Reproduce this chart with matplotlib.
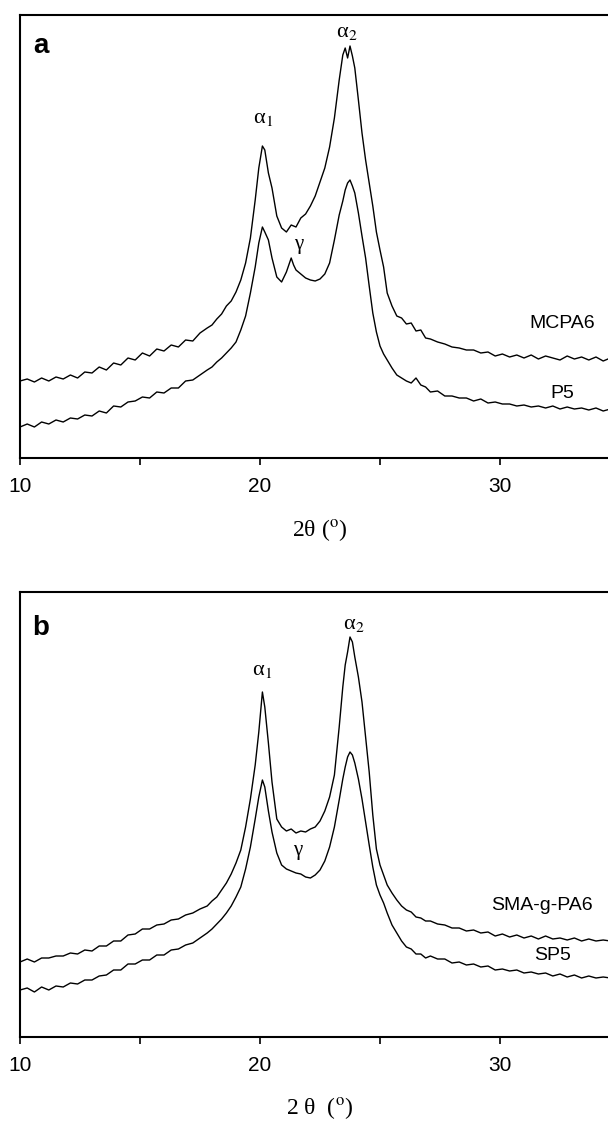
import numpy as np
import matplotlib.pyplot as plt

plt.rcParams['font.family'] = ['Liberation Sans', 'DejaVu Sans']
plt.rcParams['mathtext.fontset'] = 'stix'

## Panel a: MCPA6 and P5 (intensity in arbitrary units)
theta_mcpa6 = [10.0, 10.3, 10.6, 10.9, 11.2, 11.5, 11.8, 12.1, 12.4, 12.7, 13.0, 13.3, 13.6, 13.9,
               14.2, 14.5, 14.8, 15.1, 15.4, 15.7, 16.0, 16.3, 16.6, 16.9, 17.2, 17.5, 17.8, 18.0,
               18.2, 18.4, 18.6, 18.8, 19.0, 19.2, 19.4, 19.6, 19.8, 19.95, 20.1, 20.2, 20.35, 20.5,
               20.7, 20.9, 21.1, 21.3, 21.5, 21.7, 21.9, 22.1, 22.3, 22.5, 22.7, 22.9, 23.1, 23.3,
               23.45, 23.55, 23.65, 23.75, 23.85, 23.95, 24.1, 24.25, 24.4, 24.55, 24.7, 24.85, 25.0,
               25.15, 25.3, 25.5, 25.7, 25.9, 26.1, 26.3, 26.5, 26.7, 26.9, 27.1, 27.4, 27.7, 28.0,
               28.3, 28.6, 28.9, 29.2, 29.5, 29.8, 30.1, 30.4, 30.7, 31.0, 31.3, 31.6, 31.9, 32.2,
               32.5, 32.8, 33.1, 33.4, 33.7, 34.0, 34.3, 34.6]
int_mcpa6 = [77, 79, 76, 80, 77, 81, 79, 83, 80, 86, 85, 91, 88, 95,
             93, 100, 98, 105, 102, 109, 107, 113, 111, 118, 117, 125, 130, 133,
             139, 144, 152, 157, 166, 178, 195, 220, 258, 290, 312, 308, 285, 270,
             242, 230, 226, 233, 231, 240, 244, 252, 262, 276, 290, 311, 340, 378,
             403, 410, 400, 412, 402, 390, 358, 325, 298, 275, 252, 226, 208,
             191, 165, 152, 142, 140, 134, 135, 127, 128, 120, 119, 116, 114, 111,
             110, 108, 108, 105, 106, 102, 104, 101, 103, 100, 103, 99, 102, 100,
             98, 102, 99, 101, 98, 101, 97, 100]

theta_p5 = [10.0, 10.3, 10.6, 10.9, 11.2, 11.5, 11.8, 12.1, 12.4, 12.7, 13.0, 13.3, 13.6, 13.9,
            14.2, 14.5, 14.8, 15.1, 15.4, 15.7, 16.0, 16.3, 16.6, 16.9, 17.2, 17.5, 17.8, 18.0,
            18.2, 18.4, 18.6, 18.8, 19.0, 19.2, 19.4, 19.6, 19.8, 19.95, 20.1, 20.2, 20.35, 20.5,
            20.7, 20.9, 21.1, 21.3, 21.4, 21.5, 21.7, 21.9, 22.1, 22.3, 22.5, 22.7, 22.9, 23.1,
            23.3, 23.45, 23.55, 23.65, 23.75, 23.85, 23.95, 24.1, 24.25, 24.4, 24.55, 24.7, 24.85,
            25.0, 25.15, 25.3, 25.5, 25.7, 25.9, 26.1, 26.3, 26.5, 26.7, 26.9, 27.1, 27.4, 27.7,
            28.0, 28.3, 28.6, 28.9, 29.2, 29.5, 29.8, 30.1, 30.4, 30.7, 31.0, 31.3, 31.6, 31.9,
            32.2, 32.5, 32.8, 33.1, 33.4, 33.7, 34.0, 34.3, 34.6]
int_p5 = [31, 34, 31, 36, 34, 38, 36, 40, 39, 43, 42, 47, 45, 52,
          51, 56, 57, 61, 60, 66, 65, 70, 70, 77, 78, 83, 88, 91,
          96, 100, 105, 110, 116, 128, 142, 165, 191, 215, 231, 226, 218, 200,
          181, 176, 186, 200, 193, 188, 184, 180, 178, 177, 179, 184, 195, 218,
          243, 257, 268, 275, 278, 272, 265, 245, 222, 200, 172, 145, 126,
          112, 104, 98, 90, 83, 80, 77, 75, 80, 73, 71, 66, 67, 62,
          62, 60, 60, 57, 59, 55, 56, 54, 54, 52, 53, 51, 52, 50,
          52, 49, 51, 49, 50, 48, 50, 47, 49]

## Panel b: SMA-g-PA6 and SP5
theta_b = [10.0, 10.3, 10.6, 10.9, 11.2, 11.5, 11.8, 12.1, 12.4, 12.7, 13.0, 13.3, 13.6, 13.9,
           14.2, 14.5, 14.8, 15.1, 15.4, 15.7, 16.0, 16.3, 16.6, 16.9, 17.2, 17.5, 17.8, 18.0,
           18.2, 18.4, 18.6, 18.8, 19.0, 19.2, 19.4, 19.6, 19.8, 19.95, 20.1, 20.2, 20.35, 20.5,
           20.7, 20.9, 21.1, 21.3, 21.5, 21.7, 21.9, 22.1, 22.3, 22.5, 22.7, 22.9, 23.1, 23.3,
           23.45, 23.55, 23.65, 23.75, 23.85, 23.95, 24.1, 24.25, 24.4, 24.55, 24.7, 24.85, 25.0,
           25.15, 25.3, 25.5, 25.7, 25.9, 26.1, 26.3, 26.5, 26.7, 26.9, 27.1, 27.4, 27.7, 28.0,
           28.3, 28.6, 28.9, 29.2, 29.5, 29.8, 30.1, 30.4, 30.7, 31.0, 31.3, 31.6, 31.9, 32.2,
           32.5, 32.8, 33.1, 33.4, 33.7, 34.0, 34.3, 34.6]
int_sma = [75, 78, 75, 79, 79, 81, 81, 84, 83, 87, 86, 91, 91, 96,
           96, 102, 103, 108, 108, 112, 113, 117, 118, 122, 124, 128, 131, 136,
           140, 147, 154, 163, 174, 187, 210, 238, 272, 305, 345, 330, 294, 255,
           218, 210, 206, 208, 204, 206, 205, 208, 210, 216, 226, 240, 262, 310,
           350, 372, 385, 400, 395, 380, 360, 335, 300, 265, 222, 188, 172,
           162, 152, 144, 137, 131, 127, 125, 120, 119, 116, 116, 113, 112, 109,
           109, 106, 107, 104, 105, 101, 103, 100, 102, 99, 101, 98, 101, 98,
           99, 97, 99, 96, 98, 96, 97, 96]
int_sp5 = [47, 49, 45, 50, 47, 51, 50, 54, 53, 57, 57, 61, 62, 67,
           67, 73, 73, 77, 77, 82, 82, 87, 88, 92, 94, 99, 104, 108,
           113, 118, 124, 131, 140, 150, 168, 190, 218, 240, 257, 250, 226, 205,
           184, 172, 168, 166, 164, 163, 160, 159, 162, 167, 176, 190, 210, 237,
           258, 270, 280, 285, 282, 274, 258, 238, 215, 192, 170, 152, 142,
           134, 124, 112, 104, 96, 90, 88, 83, 83, 79, 81, 78, 78, 74,
           75, 72, 73, 70, 71, 67, 68, 66, 67, 64, 65, 63, 64, 61,
           63, 60, 62, 59, 61, 59, 60, 59]

W, H = 608, 1122
fig = plt.figure(figsize=(W / 100, H / 100), dpi=100)
serif = ['Liberation Serif', 'DejaVu Serif']


def make_axes(top_px, bottom_px):
    ax = fig.add_axes([20 / W, 1 - bottom_px / H, 600 / W, (bottom_px - top_px) / H])
    ax.set_xlim(10, 35)
    ax.set_ylim(0, bottom_px - top_px)
    ax.set_yticks([])
    ax.set_xticks([10, 20, 30])
    ax.set_xticks([15, 25], minor=True)
    ax.tick_params(axis='x', which='both', direction='out', length=5, width=1.2,
                   labelsize=15, pad=9)
    for s in ax.spines.values():
        s.set_linewidth(1.5)
    ax.spines['right'].set_visible(False)
    return ax


# panel a
ax1 = make_axes(15, 458)
ax1.plot(theta_mcpa6, int_mcpa6, color='black', lw=1.0)
ax1.plot(theta_p5, int_p5, color='black', lw=1.0)
ax1.text(0.035, 0.93, 'a', transform=ax1.transAxes, fontsize=20, fontweight='bold',
         ha='center', va='center')
ax1.text(20.12, 340, r'α$_{\rm 1}$', fontsize=16, ha='center', va='center', family=serif)
ax1.text(23.6, 426, r'α$_{\rm 2}$', fontsize=16, ha='center', va='center', family=serif)
ax1.text(21.6, 214, 'γ', fontsize=15, ha='center', va='center', family=serif)
ax1.text(32.6, 135, 'MCPA6', fontsize=14, ha='center', va='center')
ax1.text(32.6, 65, 'P5', fontsize=14, ha='center', va='center')
fig.text(320 / W, 1 - 530 / H, r'2θ ($^{\rm o}$)', fontsize=17,
         ha='center', va='center', family=serif)

# panel b
ax2 = make_axes(592, 1037)
ax2.plot(theta_b, int_sma, color='black', lw=1.0)
ax2.plot(theta_b, int_sp5, color='black', lw=1.0)
ax2.text(0.035, 0.92, 'b', transform=ax2.transAxes, fontsize=20, fontweight='bold',
         ha='center', va='center')
ax2.text(20.1, 367, r'α$_{\rm 1}$', fontsize=16, ha='center', va='center', family=serif)
ax2.text(23.9, 412, r'α$_{\rm 2}$', fontsize=16, ha='center', va='center', family=serif)
ax2.text(21.55, 187, 'γ', fontsize=15, ha='center', va='center', family=serif)
ax2.text(31.75, 132, 'SMA-g-PA6', fontsize=14, ha='center', va='center')
ax2.text(32.2, 82, 'SP5', fontsize=14, ha='center', va='center')
fig.text(320 / W, 1 - 1108 / H, r'2 θ  ($^{\rm o}$)', fontsize=17,
         ha='center', va='center', family=serif)

fig.savefig('out.png', dpi=100)
